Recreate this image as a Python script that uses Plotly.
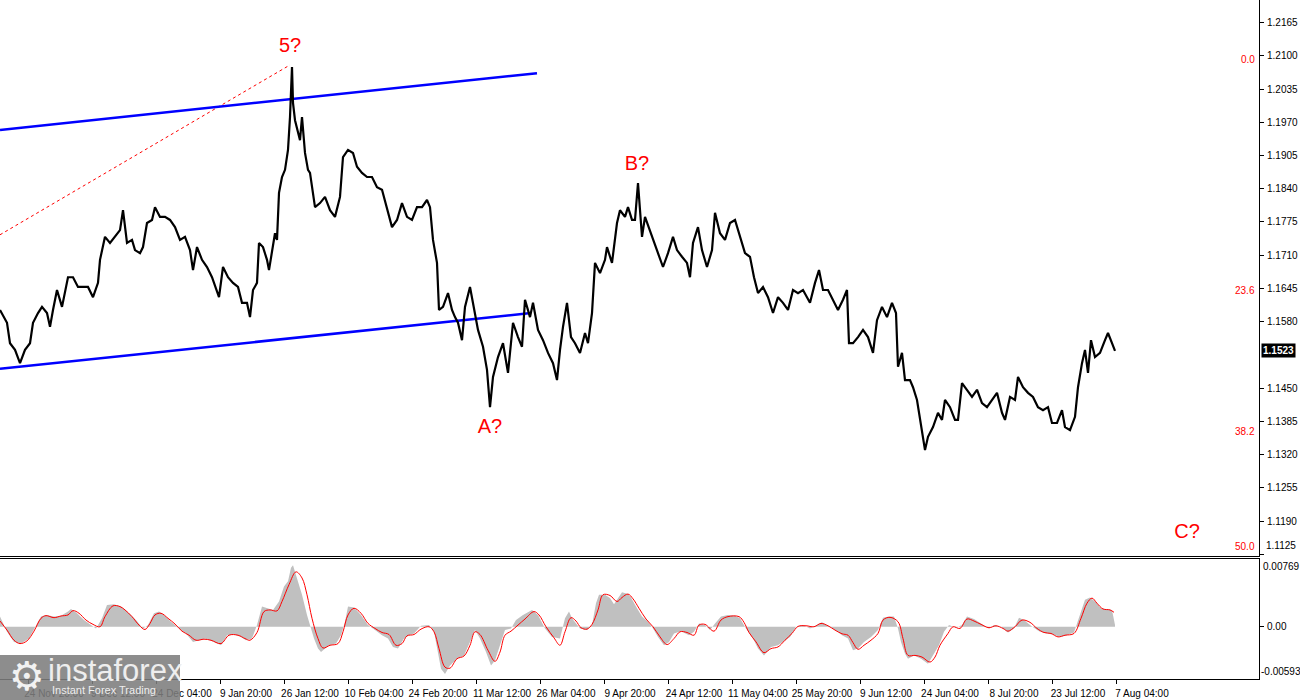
import plotly.graph_objects as go
from plotly.subplots import make_subplots

# H4 bars, one pixel per bar in the terminal view
bars = [0, 7, 10, 15, 20, 25, 30, 33, 38, 42, 47, 50, 53, 57, 62, 65, 68, 73, 78, 83,
        88, 93, 98, 100, 105, 110, 115, 120, 123, 127, 132, 135, 140, 143, 147, 152, 155, 160, 165, 170,
        175, 180, 185, 190, 193, 197, 202, 207, 212, 217, 219, 223, 228, 233, 238, 242, 247, 250, 253, 257,
        259, 263, 267, 269, 272, 275, 277, 279, 282, 285, 288, 290, 292, 293, 295, 298, 300, 302, 305, 308,
        310, 315, 320, 325, 330, 335, 340, 343, 348, 353, 357, 362, 367, 372, 377, 382, 387, 392, 397, 402,
        407, 412, 417, 422, 427, 430, 433, 437, 439, 443, 448, 452, 455, 458, 462, 465, 470, 473, 478, 483,
        487, 490, 493, 498, 503, 508, 513, 518, 522, 525, 530, 533, 538, 543, 548, 553, 557, 560, 563, 567,
        571, 575, 580, 585, 588, 592, 595, 600, 605, 607, 612, 617, 620, 625, 628, 632, 635, 638, 642, 645,
        650, 653, 658, 663, 668, 673, 677, 682, 687, 690, 693, 698, 702, 707, 712, 715, 720, 725, 730, 735,
        740, 745, 750, 754, 758, 763, 768, 773, 778, 783, 788, 793, 798, 803, 810, 815, 819, 823, 828, 833,
        838, 843, 847, 849, 853, 858, 863, 868, 873, 877, 882, 887, 892, 896, 898, 902, 905, 910, 913, 917,
        920, 925, 928, 933, 938, 942, 945, 950, 955, 958, 962, 967, 972, 977, 982, 987, 992, 997, 1002, 1005,
        1010, 1015, 1018, 1023, 1028, 1033, 1038, 1043, 1048, 1052, 1057, 1062, 1065, 1070, 1075, 1078, 1082, 1085, 1088, 1091,
        1095, 1100, 1105, 1108, 1112, 1115]

close = [1.1603, 1.1578, 1.1538, 1.1525, 1.1499, 1.1525, 1.1538, 1.1578, 1.1597, 1.1609, 1.1597, 1.1570, 1.1603, 1.1642, 1.1609, 1.1642, 1.1667, 1.1667, 1.1648, 1.1648,
         1.1648, 1.1628, 1.1656, 1.1701, 1.1746, 1.1734, 1.1746, 1.1759, 1.1798, 1.1734, 1.1740, 1.1720, 1.1714, 1.1726, 1.1773, 1.1779, 1.1804, 1.1785, 1.1785, 1.1779,
         1.1765, 1.1740, 1.1746, 1.1720, 1.1681, 1.1726, 1.1701, 1.1687, 1.1667, 1.1642, 1.1628, 1.1687, 1.1667, 1.1656, 1.1648, 1.1617, 1.1617, 1.1589, 1.1642, 1.1656,
         1.1734, 1.1726, 1.1701, 1.1681, 1.1720, 1.1753, 1.1740, 1.1832, 1.1863, 1.1877, 1.1916, 1.1980, 1.2078, 1.2008, 1.1974, 1.1949, 1.1935, 1.1980, 1.1910, 1.1877,
         1.1871, 1.1804, 1.1812, 1.1824, 1.1798, 1.1785, 1.1824, 1.1902, 1.1916, 1.1910, 1.1883, 1.1871, 1.1863, 1.1863, 1.1843, 1.1838, 1.1804, 1.1765, 1.1779, 1.1812,
         1.1785, 1.1779, 1.1804, 1.1804, 1.1818, 1.1804, 1.1740, 1.1695, 1.1603, 1.1609, 1.1636, 1.1603, 1.1589, 1.1578, 1.1544, 1.1609, 1.1648, 1.1617, 1.1564, 1.1531,
         1.1486, 1.1413, 1.1472, 1.1511, 1.1538, 1.1480, 1.1578, 1.1550, 1.1531, 1.1623, 1.1589, 1.1617, 1.1564, 1.1544, 1.1519, 1.1499, 1.1466, 1.1525, 1.1570, 1.1617,
         1.1550, 1.1538, 1.1519, 1.1558, 1.1538, 1.1597, 1.1695, 1.1675, 1.1701, 1.1726, 1.1695, 1.1773, 1.1798, 1.1785, 1.1804, 1.1779, 1.1779, 1.1851, 1.1746, 1.1785,
         1.1759, 1.1740, 1.1714, 1.1687, 1.1714, 1.1746, 1.1720, 1.1707, 1.1695, 1.1667, 1.1734, 1.1765, 1.1720, 1.1687, 1.1720, 1.1793, 1.1753, 1.1740, 1.1773, 1.1779,
         1.1746, 1.1714, 1.1707, 1.1667, 1.1636, 1.1648, 1.1628, 1.1597, 1.1628, 1.1617, 1.1603, 1.1642, 1.1636, 1.1642, 1.1617, 1.1656, 1.1681, 1.1642, 1.1642, 1.1623,
         1.1603, 1.1623, 1.1642, 1.1538, 1.1538, 1.1550, 1.1564, 1.1550, 1.1519, 1.1583, 1.1609, 1.1589, 1.1617, 1.1597, 1.1492, 1.1519, 1.1466, 1.1466, 1.1452, 1.1427,
         1.1388, 1.1329, 1.1355, 1.1374, 1.1402, 1.1388, 1.1427, 1.1413, 1.1388, 1.1388, 1.1460, 1.1447, 1.1433, 1.1447, 1.1421, 1.1413, 1.1427, 1.1441, 1.1402, 1.1388,
         1.1433, 1.1427, 1.1472, 1.1452, 1.1441, 1.1433, 1.1413, 1.1407, 1.1413, 1.1382, 1.1382, 1.1407, 1.1374, 1.1368, 1.1394, 1.1452, 1.1499, 1.1525, 1.1480, 1.1544,
         1.1511, 1.1519, 1.1544, 1.1558, 1.1538, 1.1523]

# oscillator histogram (grey) and signal line (red)
hist_bars = [0, 7, 14, 21, 29, 36, 41, 46, 54, 61, 68, 71, 77, 84, 91, 96, 102, 107, 114, 121,
             129, 136, 143, 148, 154, 159, 164, 171, 179, 186, 193, 198, 205, 214, 221, 227, 234, 241, 246, 252,
             257, 262, 268, 273, 279, 284, 288, 291, 293, 296, 302, 307, 311, 314, 318, 321, 329, 336, 341, 345,
             348, 354, 361, 368, 375, 382, 388, 393, 398, 404, 409, 414, 421, 429, 434, 438, 441, 445, 450, 457,
             464, 470, 475, 480, 486, 491, 495, 500, 505, 511, 516, 523, 532, 538, 545, 552, 560, 565, 569, 572,
             580, 587, 592, 596, 599, 605, 610, 614, 619, 622, 628, 631, 637, 642, 648, 653, 658, 664, 669, 674,
             681, 689, 694, 699, 705, 710, 715, 721, 728, 735, 740, 746, 753, 758, 764, 771, 778, 783, 790, 796,
             803, 810, 817, 822, 830, 837, 842, 848, 853, 858, 864, 871, 878, 883, 889, 894, 898, 901, 905, 908,
             914, 921, 928, 933, 939, 944, 949, 956, 962, 967, 974, 981, 989, 994, 1001, 1008, 1014, 1019, 1024, 1031,
             1039, 1046, 1053, 1060, 1067, 1074, 1080, 1085, 1090, 1096, 1101, 1106, 1112, 1115]
hist = [0.00115, -0.00057, -0.00172, -0.00191, -0.00134, 0.00019, 0.00115, 0.00134, 0.00115, 0.00126,
        0.00172, 0.00202, 0.00153, 0.00076, 0.00019, -0.00019, 0.00096, 0.00248, 0.00256, 0.00229,
        0.00153, 0.00076, -0.00019, 0.00019, 0.00153, 0.00172, 0.00134, 0.00057, -0.00019, -0.00076,
        -0.00172, -0.00153, -0.00134, -0.00172, -0.00210, -0.00096, -0.00088, -0.00115, -0.00153, -0.00134,
        0.00019, 0.00229, 0.00210, 0.00191, 0.00287, 0.00458, 0.00516, 0.00669, 0.00699, 0.00592,
        0.00363, 0.00134, -0.00019, -0.00134, -0.00248, -0.00287, -0.00210, -0.00191, -0.00096, 0.00057,
        0.00229, 0.00218, 0.00134, 0.00019, -0.00038, -0.00096, -0.00134, -0.00229, -0.00248, -0.00134,
        -0.00096, -0.00076, 0.00011, 0.00019, -0.00057, -0.00287, -0.00478, -0.00535, -0.00439, -0.00363,
        -0.00325, -0.00172, -0.00038, -0.00134, -0.00287, -0.00439, -0.00382, -0.00210, -0.00038, -0.00019,
        0.00076, 0.00134, 0.00191, 0.00134, -0.00019, -0.00115, -0.00134, 0.00096, 0.00172, 0.00096,
        -0.00019, -0.00038, 0.00019, 0.00267, 0.00363, 0.00363, 0.00325, 0.00256, 0.00344, 0.00393,
        0.00371, 0.00332, 0.00210, 0.00115, 0.00057, -0.00019, -0.00115, -0.00210, -0.00172, -0.00076,
        -0.00050, -0.00096, -0.00057, 0.00038, 0.00019, -0.00038, 0.00038, 0.00115, 0.00134, 0.00126,
        0.00096, -0.00019, -0.00134, -0.00248, -0.00325, -0.00229, -0.00210, -0.00172, -0.00115, 0.0,
        0.00019, -0.00019, 0.00019, 0.00050, 0.0, -0.00050, -0.00096, -0.00134, -0.00267, -0.00248,
        -0.00172, -0.00115, -0.00038, 0.00103, 0.00115, 0.00115, -0.00019, -0.00172, -0.00306, -0.00363,
        -0.00325, -0.00363, -0.00420, -0.00325, -0.00210, -0.00057, 0.00019, -0.00011, 0.00019, 0.00115,
        0.00088, 0.00038, -0.00019, 0.00019, 0.0, -0.00065, -0.00019, 0.00103, 0.00076, 0.00011,
        -0.00050, -0.00076, -0.00088, -0.00115, -0.00096, -0.00065, 0.00134, 0.00306, 0.00332, 0.00279,
        0.00210, 0.00202, 0.00191, 0.00019]

signal_bars = [0, 7, 14, 20, 27, 34, 41, 46, 54, 61, 68, 73, 79, 86, 93, 100, 105, 113, 120, 125,
               132, 139, 145, 150, 155, 161, 168, 175, 182, 189, 196, 204, 211, 221, 229, 238, 245, 250, 257, 264,
               270, 277, 282, 289, 296, 302, 307, 312, 318, 323, 330, 338, 343, 348, 354, 361, 368, 375, 382, 389,
               396, 402, 407, 414, 421, 429, 434, 439, 445, 450, 457, 464, 470, 475, 480, 488, 495, 500, 505, 511,
               518, 525, 534, 539, 546, 554, 560, 565, 571, 576, 581, 587, 592, 598, 603, 610, 617, 622, 628, 633,
               639, 646, 653, 660, 667, 674, 680, 687, 694, 699, 705, 714, 721, 728, 739, 744, 749, 756, 764, 771,
               778, 785, 792, 798, 806, 814, 821, 828, 835, 842, 848, 853, 858, 864, 871, 878, 883, 890, 898, 903,
               908, 915, 922, 930, 935, 940, 948, 953, 960, 967, 974, 981, 989, 996, 1003, 1008, 1015, 1022, 1030, 1037,
               1044, 1051, 1058, 1065, 1074, 1081, 1087, 1092, 1097, 1103, 1110, 1114]
signal = [0.00065, -0.00038, -0.00153, -0.00191, -0.00160, -0.00050, 0.00096, 0.00126, 0.00103, 0.00122,
          0.00134, 0.00183, 0.00153, 0.00076, 0.00027, 0.0, 0.00115, 0.00237, 0.00229, 0.00191,
          0.00115, 0.00019, -0.00031, 0.00038, 0.00134, 0.00153, 0.00096, 0.00031, -0.00050, -0.00096,
          -0.00153, -0.00141, -0.00153, -0.00191, -0.00096, -0.00096, -0.00134, -0.00153, -0.00065, 0.00172,
          0.00191, 0.00180, 0.00287, 0.00478, 0.00623, 0.00554, 0.00363, 0.00096, -0.00134, -0.00241,
          -0.00210, -0.00191, -0.00057, 0.00134, 0.00210, 0.00153, 0.00038, -0.00019, -0.00065, -0.00088,
          -0.00210, -0.00191, -0.00103, -0.00088, -0.00027, 0.0, -0.00057, -0.00248, -0.00458, -0.00470,
          -0.00363, -0.00332, -0.00210, -0.00057, -0.00088, -0.00267, -0.00393, -0.00287, -0.00096, -0.00050,
          0.00019, 0.00088, 0.00172, 0.00134, 0.0, -0.00126, -0.00210, -0.00057, 0.00103, 0.00065,
          -0.00011, -0.00027, 0.00027, 0.00191, 0.00363, 0.00355, 0.00287, 0.00332, 0.00371, 0.00317,
          0.00210, 0.00088, 0.0, -0.00115, -0.00202, -0.00134, -0.00057, -0.00065, -0.00096, 0.00019,
          0.00027, -0.00050, 0.00076, 0.00115, 0.00115, 0.00050, -0.00065, -0.00172, -0.00294, -0.00248,
          -0.00229, -0.00153, -0.00076, 0.00004, 0.00011, 0.0, 0.00038, 0.00011, -0.00038, -0.00080,
          -0.00096, -0.00180, -0.00256, -0.00210, -0.00153, -0.00076, 0.00076, 0.00107, 0.00057, -0.00134,
          -0.00325, -0.00325, -0.00344, -0.00401, -0.00344, -0.00210, -0.00076, 0.0, -0.00019, 0.00088,
          0.00065, 0.00027, -0.00011, 0.00011, -0.00019, -0.00050, 0.0, 0.00076, 0.00050, -0.00019,
          -0.00065, -0.00076, -0.00115, -0.00096, -0.00076, 0.00096, 0.00267, 0.00325, 0.00267, 0.00202,
          0.00191, 0.00164]

# axis labels
tick_bars = [28, 92, 156, 220, 284, 348, 412, 476, 540, 604, 668, 732, 796, 860, 924, 988, 1052, 1116]
tick_labels = ["24 Nov 20:00", "9 Dec 12:00", "24 Dec 04:00", "9 Jan 20:00", "26 Jan 12:00",
               "10 Feb 04:00", "24 Feb 20:00", "11 Mar 12:00", "26 Mar 04:00", "9 Apr 20:00",
               "24 Apr 12:00", "11 May 04:00", "25 May 20:00", "9 Jun 12:00", "24 Jun 04:00",
               "8 Jul 20:00", "23 Jul 12:00", "7 Aug 04:00"]
price_ticks = [1.2165, 1.2100, 1.2035, 1.1970, 1.1905, 1.1840, 1.1775, 1.1710, 1.1645, 1.1580,
               1.1450, 1.1385, 1.1320, 1.1255, 1.1190]
last_price = 1.1523

# fibonacci levels
fib_labels = ["0.0", "23.6", "38.2", "50.0"]
fib_prices = [1.2082, 1.1631, 1.1355, 1.1130]

# channel lines and fib anchor
upper_channel_bars = [0, 537]
upper_channel_prices = [1.1955, 1.2066]
lower_channel_bars = [0, 531]
lower_channel_prices = [1.1488, 1.1597]
fib_anchor_bars = [0, 290]
fib_anchor_prices = [1.1750, 1.2082]

# wave count
wave_labels = ["5?", "A?", "B?", "C?"]
wave_bars = [290, 490, 637, 1187]
wave_prices = [1.2117, 1.1372, 1.1886, 1.1167]

osc_top = 0.00769
osc_bottom = -0.00593

fig = make_subplots(rows=2, cols=1, shared_xaxes=True, vertical_spacing=0.005)

for level in fib_prices:
    fig.add_hline(y=level, line_color="#ff0000", line_width=1, row=1, col=1)

fig.add_hline(y=last_price, line_color="#c0c0c0", line_width=1, row=1, col=1)

fig.add_trace(
    go.Scatter(
        x=fib_anchor_bars,
        y=fib_anchor_prices,
        mode="lines",
        line=dict(color="#ff0000", width=1, dash="dot"),
    ),
    row=1,
    col=1,
)
fig.add_trace(
    go.Scatter(
        x=upper_channel_bars,
        y=upper_channel_prices,
        mode="lines",
        line=dict(color="#0000ff", width=2.5),
    ),
    row=1,
    col=1,
)
fig.add_trace(
    go.Scatter(
        x=lower_channel_bars,
        y=lower_channel_prices,
        mode="lines",
        line=dict(color="#0000ff", width=2.5),
    ),
    row=1,
    col=1,
)
fig.add_trace(
    go.Scatter(
        x=bars,
        y=close,
        mode="lines",
        line=dict(color="black", width=2.2),
    ),
    row=1,
    col=1,
)
fig.add_trace(
    go.Scatter(
        x=wave_bars,
        y=wave_prices,
        mode="text",
        text=wave_labels,
        textfont=dict(family="Liberation Sans, Arial", size=20, color="#ff0000"),
    ),
    row=1,
    col=1,
)

fig.add_trace(
    go.Scatter(
        x=hist_bars,
        y=hist,
        mode="lines",
        fill="tozeroy",
        fillcolor="#c0c0c0",
        line=dict(width=0, color="#c0c0c0"),
    ),
    row=2,
    col=1,
)
fig.add_trace(
    go.Scatter(
        x=signal_bars,
        y=signal,
        mode="lines",
        line=dict(color="#ff0000", width=1, shape="spline"),
    ),
    row=2,
    col=1,
)

for label, level in zip(fib_labels, fib_prices):
    fig.add_annotation(
        x=1257, y=level, xref="x", yref="y",
        text=label, showarrow=False,
        xanchor="right", yanchor="bottom", yshift=-2,
        font=dict(family="Liberation Sans, Arial", size=10, color="#ff0000"),
    )

axis_font = dict(family="Liberation Sans, Arial", size=10, color="black")

# price badge on the right scale
fig.add_annotation(
    x=1, y=last_price, xref="paper", yref="y",
    text="<b>1.1523</b>", showarrow=False,
    xanchor="left", xshift=2,
    bgcolor="black", borderpad=1,
    font=dict(family="Liberation Sans, Arial", size=10, color="white"),
)
# edge labels sit inside the panels
fig.add_annotation(
    x=1, y=0, xref="paper", yref="y domain",
    text="1.1125", showarrow=False,
    xanchor="left", yanchor="bottom", xshift=5, yshift=3,
    font=axis_font,
)
fig.add_annotation(
    x=1, y=1, xref="paper", yref="y2 domain",
    text="0.00769", showarrow=False,
    xanchor="left", yanchor="top", xshift=2,
    font=axis_font,
)
fig.add_annotation(
    x=1, y=0, xref="paper", yref="y2 domain",
    text="-0.00593", showarrow=False,
    xanchor="left", yanchor="bottom", xshift=0,
    font=axis_font,
)

# broker logo, bottom-left corner
fig.add_shape(
    type="rect", xref="paper", yref="paper",
    x0=0, x1=180 / 1259, y0=-21 / 679, y1=24 / 679,
    fillcolor="rgba(125,125,125,0.88)", line_width=0, layer="above",
)
fig.add_annotation(
    x=0, y=3 / 679, xref="paper", yref="paper", xshift=7,
    text="⚙", showarrow=False, xanchor="left", yanchor="middle",
    font=dict(family="DejaVu Sans", size=40, color="#f2f2f2"),
)
fig.add_annotation(
    x=0, y=9 / 679, xref="paper", yref="paper", xshift=46,
    text="instaforex", showarrow=False, xanchor="left", yanchor="middle",
    font=dict(family="Liberation Sans, Arial", size=31, color="#eeeeee"),
)
fig.add_annotation(
    x=0, y=-11 / 679, xref="paper", yref="paper", xshift=50,
    text="Instant Forex Trading", showarrow=False, xanchor="left", yanchor="middle",
    font=dict(family="Liberation Sans, Arial", size=11, color="#eeeeee"),
)

fig.update_layout(
    width=1300,
    height=700,
    margin=dict(l=0, r=41, t=0, b=21),
    paper_bgcolor="white",
    plot_bgcolor="white",
    showlegend=False,
    hovermode=False,
)

fig.update_xaxes(
    range=[0, 1259],
    showgrid=False,
    zeroline=False,
    showline=True,
    linecolor="black",
    linewidth=1,
)
fig.update_xaxes(showticklabels=False, ticks="", row=1, col=1)
fig.update_xaxes(
    mirror=True,
    tickvals=tick_bars,
    ticktext=tick_labels,
    ticks="outside",
    ticklen=4,
    tickcolor="black",
    ticklabelshift=26,
    ticklabelstandoff=1,
    tickfont=dict(family="Liberation Sans Narrow, Liberation Sans, Arial", size=10, color="black"),
    row=2,
    col=1,
)

fig.update_yaxes(
    side="right",
    showgrid=False,
    zeroline=False,
    showline=True,
    linecolor="black",
    linewidth=1,
    ticks="outside",
    ticklen=4,
    tickcolor="black",
    ticklabelstandoff=1,
    tickfont=axis_font,
)
fig.update_yaxes(
    domain=[123 / 679, 1],
    range=[1.1122, 1.2209],
    tickvals=price_ticks + [1.1125],
    ticktext=[f"{p:.4f}" for p in price_ticks] + [""],
    row=1,
    col=1,
)
fig.update_yaxes(
    domain=[0, 120 / 679],
    range=[osc_bottom, osc_top],
    tickvals=[0],
    ticktext=["0.00"],
    row=2,
    col=1,
)

# page margin off so the 1300x700 figure fills the window
fig.write_html(
    "out.html",
    config={"displayModeBar": False},
    post_script="document.body.style.margin='0';",
)
